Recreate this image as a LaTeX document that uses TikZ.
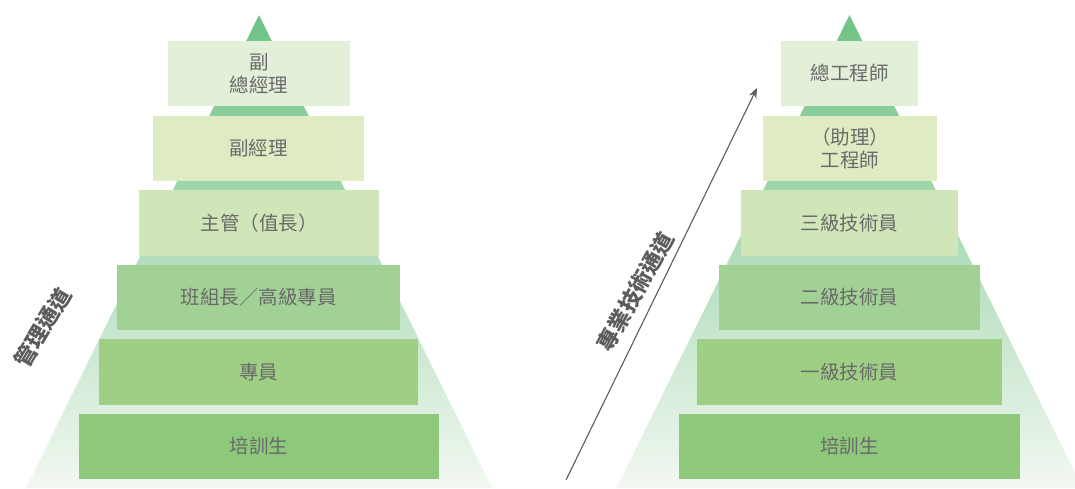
\documentclass[tikz,border=0pt]{standalone}
\usepackage{fontspec}
\newfontfamily\cjk{Noto Sans CJK TC}
\usetikzlibrary{arrows.meta}
\definecolor{txt}{HTML}{6A6A6A}
\definecolor{lbl}{HTML}{5C5C5C}
\definecolor{triTop}{HTML}{6FC285}
\definecolor{triBot}{HTML}{F2F8F1}
\definecolor{cA}{HTML}{E2EFD9}
\definecolor{cB}{HTML}{DFEBC3}
\definecolor{cC}{HTML}{D0E6B9}
\definecolor{cD}{HTML}{A2D195}
\definecolor{cE}{HTML}{9ECF85}
\definecolor{cF}{HTML}{8DC87B}
\tikzset{
  lvl/.style={draw=none, inner sep=0pt, minimum height=65pt, align=center,
    text=txt, font=\cjk\fontsize{19.5}{23}\selectfont},
  chan/.style={text=lbl, font=\cjk\bfseries\fontsize{22}{26}\selectfont, inner sep=0pt},
  tri/.style={top color=triTop, bottom color=triBot, draw=none}
}
\begin{document}
\begin{tikzpicture}[x=1pt,y=-1pt]
\useasboundingbox (0,0) rectangle (1075,488);
\clip (0,0) rectangle (1075,488);
% pyramids
\shade[tri] (259,15) -- (26,488) -- (492,488) -- cycle;
\shade[tri] (849.5,15) -- (616.5,488) -- (1082.5,488) -- cycle;
% left levels
\node[lvl, fill=cA, minimum width=182pt] (l1) at (259,73.5) {副\\總經理};
\node[lvl, fill=cB, minimum width=211pt] (l2) at (258.5,148.5) {副經理};
\node[lvl, fill=cC, minimum width=240pt, minimum height=66pt] (l3) at (259,223) {主管（值長）};
\node[lvl, fill=cD, minimum width=283pt] (l4) at (258.5,297.5) {班組長／高級專員};
\node[lvl, fill=cE, minimum width=319pt, minimum height=66pt] (l5) at (258.5,372) {專員};
\node[lvl, fill=cF, minimum width=360pt] (l6) at (259,446.5) {培訓生};
% right levels
\node[lvl, fill=cA, minimum width=137pt] (r1) at (849.5,73.5) {總工程師};
\node[lvl, fill=cB, minimum width=174pt] (r2) at (850,148.5) {（助理）\\工程師};
\node[lvl, fill=cC, minimum width=217pt, minimum height=66pt] (r3) at (849.5,223) {三級技術員};
\node[lvl, fill=cD, minimum width=261pt] (r4) at (849.5,297.5) {二級技術員};
\node[lvl, fill=cE, minimum width=305pt, minimum height=66pt] (r5) at (849.5,372) {一級技術員};
\node[lvl, fill=cF, minimum width=341pt] (r6) at (849.5,446.5) {培訓生};
% channel labels
\node[chan, rotate=59] (mgmt) at (42.5,327.5) {管理通道};
\node[chan, rotate=61] (tech) at (635.5,291.5) {專業技術通道};
% arrow
\coordinate (as) at (566,480);
\coordinate (ae) at (757,88);
\draw[draw=lbl, line width=1.1pt, -{Stealth[length=10pt,width=8pt]}] (as) -- (ae);
\end{tikzpicture}
\end{document}
